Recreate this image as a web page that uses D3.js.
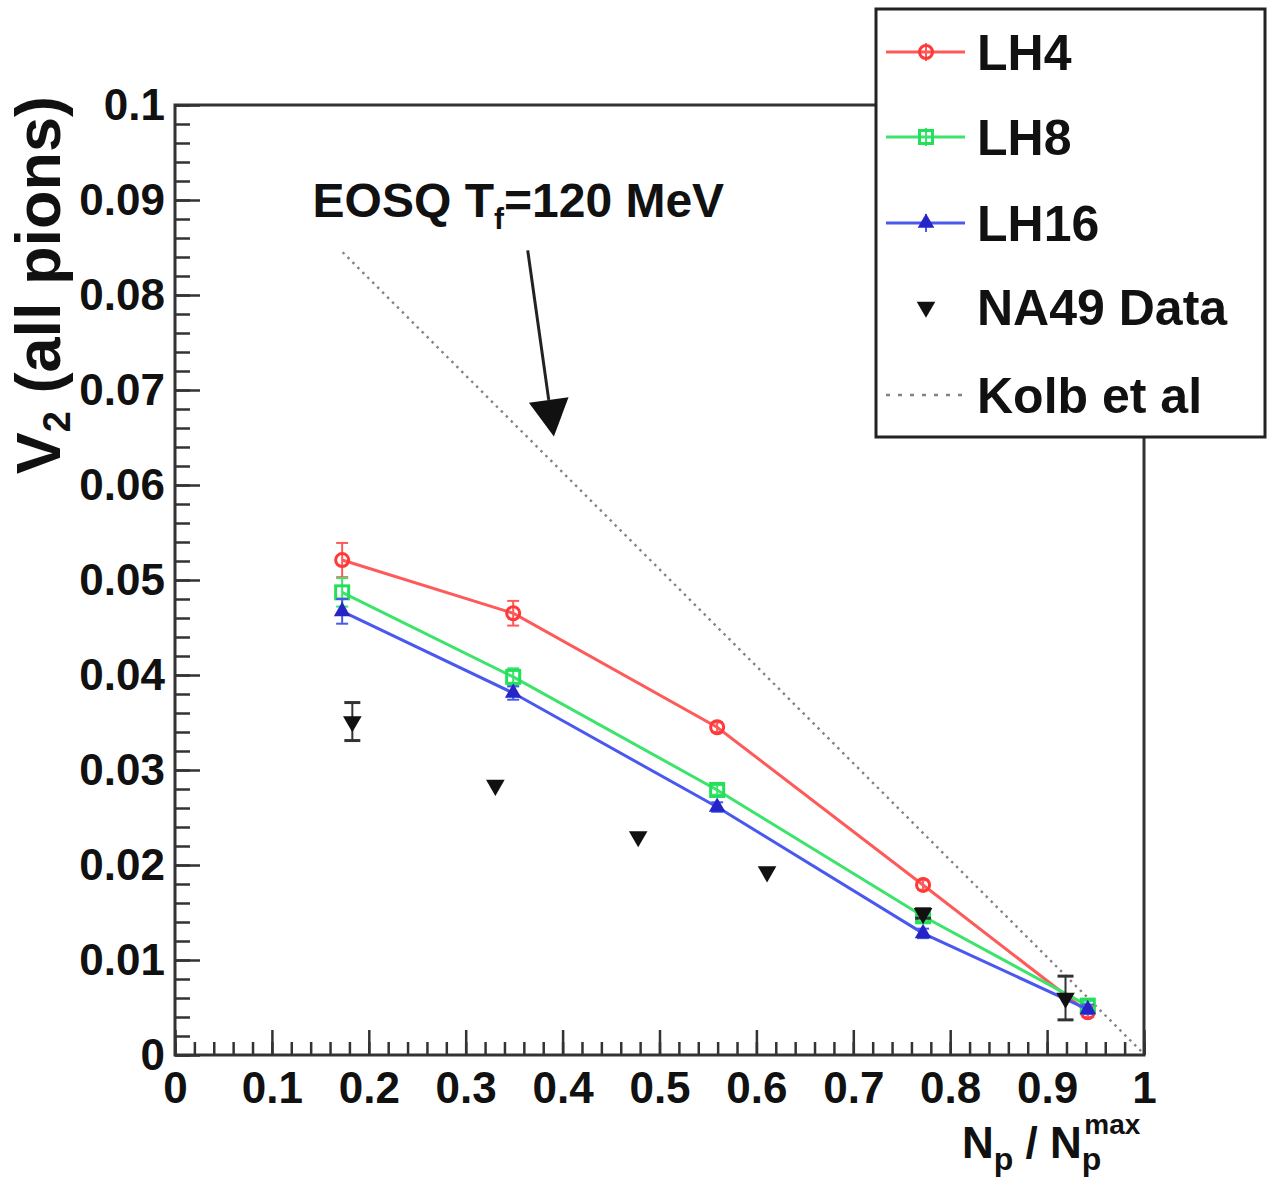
<!DOCTYPE html>
<html>
<head>
<meta charset="utf-8">
<script src="https://cdn.jsdelivr.net/npm/d3@7"></script>
<style>
  body { margin: 0; background: #fff; }
  svg text { font-family: "Liberation Sans", Arial, Helvetica, sans-serif; font-weight: bold; fill: #111; }
</style>
</head>
<body>
<svg id="chart" width="1268" height="1180"></svg>
<script>
// model points (x = Np / Np^max)
var lhX = [0.1725, 0.349, 0.5595, 0.772, 0.942];
var lh4 = [0.0521, 0.0465, 0.0345, 0.0179, 0.0045];
var lh4Err = [0.0018, 0.0013, 0.0005, 0.0005, 0.0005];
var lh8 = [0.0487, 0.0398, 0.0279, 0.0146, 0.0052];
var lh8Err = [0.0015, 0.0009, 0.0005, 0.0005, 0.0005];
var lh16 = [0.0467, 0.0381, 0.0261, 0.0128, 0.0048];
var lh16Err = [0.0013, 0.0007, 0.0005, 0.0005, 0.0005];

// NA49 data (0 = error hidden under the marker)
var na49X = [0.183, 0.3306, 0.478, 0.611, 0.772, 0.919];
var na49Y = [0.0351, 0.0284, 0.0230, 0.0193, 0.0149, 0.0060];
var na49Err = [0.0020, 0, 0, 0, 0.0005, 0.0023];

// Kolb et al hydro line
var kolbX = [0.173, 0.998];
var kolbY = [0.0845, 0.0003];

// annotation: text anchor and arrow (start, tip) in data units
var noteXY = [0.142, 0.0882];
var arrowFrom = [0.364, 0.0847];
var arrowTo = [0.391, 0.0651];

var xTicks = [0, 0.1, 0.2, 0.3, 0.4, 0.5, 0.6, 0.7, 0.8, 0.9, 1];
var yTicks = [0, 0.01, 0.02, 0.03, 0.04, 0.05, 0.06, 0.07, 0.08, 0.09, 0.1];

var svg = d3.select("#chart");
var x = d3.scaleLinear().domain([0, 1]).range([175, 1144]);
var y = d3.scaleLinear().domain([0, 0.1]).range([1055, 105]);

var fmt = function (d) { return d === 0 ? "0" : String(+d.toFixed(2)); };

// minor ticks
svg.append("g")
    .attr("transform", "translate(0,1055)")
    .call(d3.axisBottom(x).tickValues(d3.range(0, 1.0001, 0.02)).tickSize(-13).tickFormat(""))
    .call(function (g) { g.select(".domain").remove(); });
svg.append("g")
    .attr("transform", "translate(175,0)")
    .call(d3.axisLeft(y).tickValues(d3.range(0, 0.10001, 0.002)).tickSize(-15).tickFormat(""))
    .call(function (g) { g.select(".domain").remove(); });

// major ticks + labels
var xAxis = svg.append("g")
    .attr("transform", "translate(0,1055)")
    .call(d3.axisBottom(x).tickValues(xTicks).tickSize(-25).tickPadding(17).tickFormat(fmt));
var yAxis = svg.append("g")
    .attr("transform", "translate(175,0)")
    .call(d3.axisLeft(y).tickValues(yTicks).tickSize(-25).tickPadding(10).tickFormat(fmt));

[xAxis, yAxis].forEach(function (g) {
    g.select(".domain").remove();
    g.selectAll("text").attr("font-size", 44).attr("fill", "#111")
        .style("font-family", "'Liberation Sans', Arial, sans-serif").style("font-weight", "bold");
});
svg.selectAll(".tick line").attr("stroke", "#333").attr("stroke-width", 2.5);

// frame
svg.append("rect")
    .attr("x", x(0)).attr("y", y(0.1))
    .attr("width", x(1) - x(0)).attr("height", y(0) - y(0.1))
    .attr("fill", "none").attr("stroke", "#333").attr("stroke-width", 3);

// Kolb line
svg.append("path")
    .datum(d3.zip(kolbX, kolbY))
    .attr("d", d3.line().x(function (d) { return x(d[0]); }).y(function (d) { return y(d[1]); }))
    .attr("fill", "none").attr("stroke", "#8c7c8c").attr("stroke-width", 2.4)
    .attr("stroke-dasharray", "2.5,4.5");

var series = [
    { name: "LH4", vals: lh4, err: lh4Err, line: "#ff5a5a", mark: "#ff3838", type: "circle" },
    { name: "LH8", vals: lh8, err: lh8Err, line: "#3ce46c", mark: "#22e05a", type: "square" },
    { name: "LH16", vals: lh16, err: lh16Err, line: "#4a58f0", mark: "#2424c8", type: "triangle" }
];

function drawMarker(g, type, color, cx, cy) {
    if (type === "circle") {
        g.append("circle").attr("cx", cx).attr("cy", cy).attr("r", 6.5)
            .attr("fill", "none").attr("stroke", color).attr("stroke-width", 3);
    } else if (type === "square") {
        g.append("rect").attr("x", cx - 6.5).attr("y", cy - 6.5).attr("width", 13).attr("height", 13)
            .attr("fill", "none").attr("stroke", color).attr("stroke-width", 3);
    } else if (type === "triangle") {
        g.append("path").attr("d", d3.symbol().type(d3.symbolTriangle).size(120)())
            .attr("transform", "translate(" + cx + "," + cy + ")").attr("fill", color);
    } else if (type === "down") {
        g.append("path").attr("d", d3.symbol().type(d3.symbolTriangle).size(150)())
            .attr("transform", "translate(" + cx + "," + cy + ") rotate(180)").attr("fill", color);
    }
}

var line = d3.line().x(function (d) { return x(d[0]); }).y(function (d) { return y(d[1]); });

series.forEach(function (s) {
    var g = svg.append("g");
    var pts = d3.zip(lhX, s.vals);
    g.append("path").datum(pts).attr("d", line)
        .attr("fill", "none").attr("stroke", s.line).attr("stroke-width", 3);
    pts.forEach(function (p, i) {
        var e = s.err[i];
        g.append("line").attr("x1", x(p[0])).attr("x2", x(p[0]))
            .attr("y1", y(p[1] - e)).attr("y2", y(p[1] + e))
            .attr("stroke", s.line).attr("stroke-width", 2);
        [p[1] - e, p[1] + e].forEach(function (v) {
            g.append("line").attr("x1", x(p[0]) - 6).attr("x2", x(p[0]) + 6)
                .attr("y1", y(v)).attr("y2", y(v))
                .attr("stroke", s.line).attr("stroke-width", 2);
        });
        drawMarker(g, s.type, s.mark, x(p[0]), y(p[1]));
    });
});

// NA49
var gd = svg.append("g");
na49X.forEach(function (xv, i) {
    var yv = na49Y[i], e = na49Err[i];
    if (e > 0) {
        gd.append("line").attr("x1", x(xv)).attr("x2", x(xv))
            .attr("y1", y(yv - e)).attr("y2", y(yv + e))
            .attr("stroke", "#333").attr("stroke-width", 2);
        [yv - e, yv + e].forEach(function (v) {
            gd.append("line").attr("x1", x(xv) - 8).attr("x2", x(xv) + 8)
                .attr("y1", y(v)).attr("y2", y(v))
                .attr("stroke", "#333").attr("stroke-width", 3);
        });
    }
    drawMarker(gd, "down", "#111", x(xv), y(yv));
});

// annotation
var note = svg.append("text")
    .attr("x", x(noteXY[0])).attr("y", y(noteXY[1]))
    .attr("font-size", 48);
note.append("tspan").text("EOSQ T");
note.append("tspan").attr("font-size", 30).attr("dy", 12).text("f");
note.append("tspan").attr("dy", -12).text("=120 MeV");

var ax0 = x(arrowFrom[0]), ay0 = y(arrowFrom[1]), ax1 = x(arrowTo[0]), ay1 = y(arrowTo[1]);
var len = Math.hypot(ax1 - ax0, ay1 - ay0), ux = (ax1 - ax0) / len, uy = (ay1 - ay0) / len;
var headL = 37, headW = 20;
var bx = ax1 - ux * headL, by = ay1 - uy * headL;
svg.append("line").attr("x1", ax0).attr("y1", ay0).attr("x2", bx).attr("y2", by)
    .attr("stroke", "#222").attr("stroke-width", 3);
svg.append("path")
    .attr("d", "M" + ax1 + "," + ay1 + "L" + (bx - uy * headW) + "," + (by + ux * headW) +
        "L" + (bx + uy * headW) + "," + (by - ux * headW) + "Z")
    .attr("fill", "#111");

// axis titles
var yt = svg.append("text")
    .attr("transform", "translate(60,96) rotate(-90)")
    .attr("text-anchor", "end")
    .attr("font-size", 63);
yt.append("tspan").text("V");
yt.append("tspan").attr("font-size", 38).attr("dy", 10).text("2");
yt.append("tspan").attr("dy", -10).text(" (all pions)");

var xt = svg.append("text").attr("x", 962).attr("y", 1158).attr("font-size", 44);
xt.append("tspan").text("N");
xt.append("tspan").attr("font-size", 32).attr("dy", 12).text("p");
xt.append("tspan").attr("dy", -12).text(" / N");
xt.append("tspan").attr("font-size", 32).attr("dy", 12).text("p");
xt.append("tspan").attr("font-size", 28).attr("dx", -17).attr("dy", -36).text("max");

// legend
var leg = svg.append("g");
leg.append("rect").attr("x", 876).attr("y", 9).attr("width", 389).attr("height", 428)
    .attr("fill", "#fff").attr("stroke", "#222").attr("stroke-width", 3);
var legRows = [
    { label: "LH4", y: 52, s: series[0] },
    { label: "LH8", y: 137, s: series[1] },
    { label: "LH16", y: 223, s: series[2] },
    { label: "NA49 Data", y: 307, s: null },
    { label: "Kolb et al", y: 395, s: null }
];
legRows.forEach(function (r, i) {
    if (r.s) {
        leg.append("line").attr("x1", 886).attr("x2", 965).attr("y1", r.y).attr("y2", r.y)
            .attr("stroke", r.s.line).attr("stroke-width", 3);
        leg.append("line").attr("x1", 926).attr("x2", 926).attr("y1", r.y - 9).attr("y2", r.y + 9)
            .attr("stroke", r.s.line).attr("stroke-width", 2);
        drawMarker(leg, r.s.type, r.s.mark, 926, r.y);
    } else if (i === 3) {
        drawMarker(leg, "down", "#111", 926, r.y);
    } else {
        leg.append("line").attr("x1", 886).attr("x2", 965).attr("y1", r.y).attr("y2", r.y)
            .attr("stroke", "#8c7c8c").attr("stroke-width", 2.5).attr("stroke-dasharray", "4,8");
    }
    leg.append("text").attr("x", 977).attr("y", r.y + 18).attr("font-size", 50).text(r.label);
});
</script>
</body>
</html>
